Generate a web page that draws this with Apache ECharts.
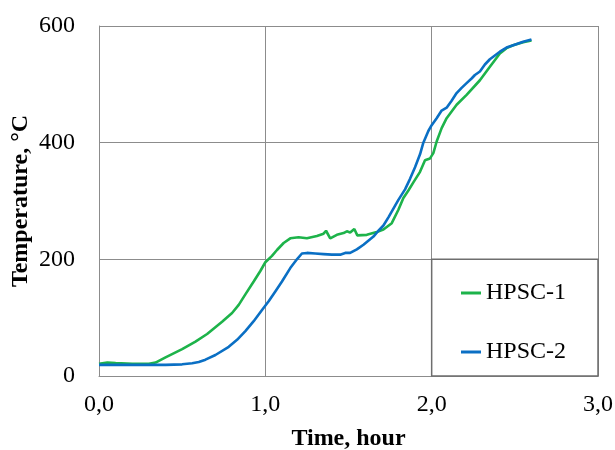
<!DOCTYPE html>
<html>
<head>
<meta charset="utf-8">
<script src="https://cdn.jsdelivr.net/npm/echarts@6/dist/echarts.min.js"></script>
<style>
  html, body { margin: 0; padding: 0; background: #fff; }
  #chart { width: 615px; height: 450px; }
</style>
</head>
<body>
<div id="chart"></div>
<script>
// Furnace heating curves of the two HPSC specimens
const seriesNames = ['HPSC-1', 'HPSC-2'];

const hpsc1Time = [0, 0.05, 0.1, 0.2, 0.3, 0.34, 0.4, 0.5, 0.58, 0.65, 0.74, 0.8, 0.84, 0.88, 0.93, 0.97,
  1.0, 1.04, 1.07, 1.11, 1.15, 1.2, 1.25, 1.31, 1.35, 1.365, 1.39, 1.43, 1.47, 1.49, 1.51, 1.535, 1.553,
  1.61, 1.67, 1.71, 1.76, 1.8, 1.83, 1.86, 1.89, 1.93, 1.96, 1.99, 2.01, 2.03, 2.06, 2.09, 2.15, 2.21,
  2.29, 2.35, 2.41, 2.45, 2.49, 2.55, 2.6];
const hpsc1Temp = [21, 23, 22, 21, 21, 23, 32, 46, 59, 72, 93, 108, 122, 140, 162, 180,
  195, 206, 216, 228, 236, 238, 236, 240, 244, 249, 236, 242, 245, 248, 246, 252, 241,
  242, 247, 251, 262, 285, 305, 318, 332, 350, 370, 373, 382, 402, 425, 442, 465, 482,
  507, 530, 553, 562, 567, 572, 575];

const hpsc2Time = [0, 0.2, 0.4, 0.5, 0.56, 0.6, 0.64, 0.7, 0.78, 0.83, 0.88, 0.93, 0.98, 1.02, 1.06,
  1.1, 1.15, 1.19, 1.22, 1.25, 1.3, 1.35, 1.4, 1.45, 1.48, 1.51, 1.55, 1.59, 1.65, 1.68, 1.71, 1.74,
  1.77, 1.8, 1.84, 1.87, 1.9, 1.93, 1.95, 1.98, 2.0, 2.03, 2.06, 2.09, 2.12, 2.15, 2.18, 2.21, 2.24,
  2.26, 2.29, 2.32, 2.35, 2.41, 2.45, 2.49, 2.55, 2.6];
const hpsc2Temp = [19, 19, 19, 20, 22, 24, 28, 36, 50, 62, 77, 94, 113, 128, 145,
  162, 185, 200, 210, 211, 210, 209, 208, 208, 211, 211, 217, 225, 239, 249, 258, 272,
  287, 302, 320, 338, 358, 380, 400, 420, 430, 442, 455, 460, 472, 485, 494, 502, 510,
  516, 522, 534, 543, 556, 563, 567, 573, 577];

const xTicks = { min: 0, max: 3, interval: 1 };
const yTicks = { min: 0, max: 600, interval: 200 };

const colors = ['#1db34a', '#0a6fc4'];
const gridColor = '#8c8c8c';
const serif = '"Liberation Serif", "Times New Roman", serif';

function pairs(xs, ys) { return xs.map((x, i) => [x, ys[i]]); }

const chart = echarts.init(document.getElementById('chart'));
chart.setOption({
  animation: false,
  backgroundColor: '#fff',
  grid: { left: 99, right: 17, top: 26, bottom: 74, containLabel: false, outerBoundsMode: 'none' },
  xAxis: {
    type: 'value', min: xTicks.min, max: xTicks.max, interval: xTicks.interval,
    name: 'Time, hour', nameLocation: 'middle', nameGap: 51, nameMoveOverlap: false,
    nameTextStyle: { fontFamily: serif, fontSize: 24, fontWeight: 'bold', color: '#000' },
    axisLine: { show: true, lineStyle: { color: gridColor, width: 1 } },
    axisTick: { show: false },
    axisLabel: { fontFamily: serif, fontSize: 24, color: '#000', margin: 17,
      formatter: v => v.toFixed(1).replace('.', ',') },
    splitLine: { show: true, lineStyle: { color: gridColor, width: 1 } }
  },
  yAxis: {
    type: 'value', min: yTicks.min, max: yTicks.max, interval: yTicks.interval,
    name: 'Temperature, °C', nameLocation: 'middle', nameGap: 66, nameMoveOverlap: false,
    nameTextStyle: { fontFamily: serif, fontSize: 24, fontWeight: 'bold', color: '#000' },
    axisLine: { show: true, lineStyle: { color: gridColor, width: 1 } },
    axisTick: { show: false },
    axisLabel: { fontFamily: serif, fontSize: 24, color: '#000', margin: 24 },
    splitLine: { show: true, lineStyle: { color: gridColor, width: 1 } }
  },
  legend: {
    orient: 'vertical', left: 456, top: 276,
    icon: 'rect', itemWidth: 20, itemHeight: 3, itemGap: 35,
    textStyle: { fontFamily: serif, fontSize: 24, color: '#000', lineHeight: 24 },
    data: seriesNames
  },
  series: [
    { name: seriesNames[0], type: 'line', showSymbol: false, color: colors[0],
      lineStyle: { width: 2.6, color: colors[0] }, data: pairs(hpsc1Time, hpsc1Temp) },
    { name: seriesNames[1], type: 'line', showSymbol: false, color: colors[1],
      lineStyle: { width: 2.6, color: colors[1] }, data: pairs(hpsc2Time, hpsc2Temp) }
  ]
});

// Frame around the legend, spanning the 2,0–3,0 by 0–200 cell
const p0 = chart.convertToPixel({ gridIndex: 0 }, [2, 200]);
const p1 = chart.convertToPixel({ gridIndex: 0 }, [3, 0]);
chart.setOption({
  graphic: [{
    type: 'rect', z: 100,
    shape: { x: p0[0], y: p0[1], width: p1[0] - p0[0], height: p1[1] - p0[1] },
    style: { fill: 'none', stroke: '#6e6e6e', lineWidth: 1.5 }
  }]
});
</script>
</body>
</html>
